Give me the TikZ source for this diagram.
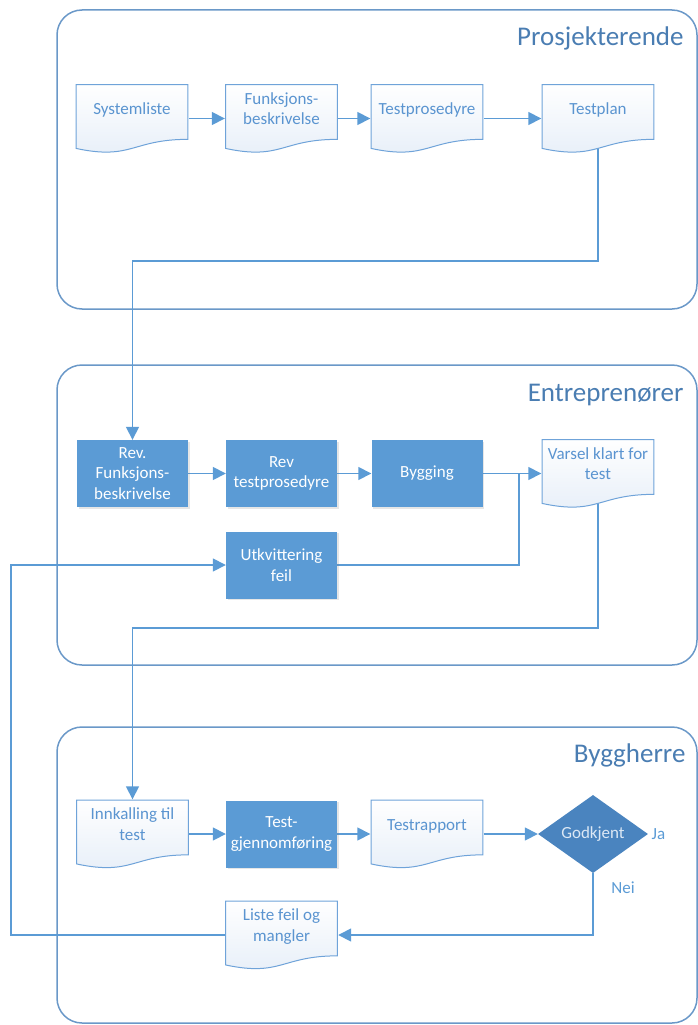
\documentclass[tikz,border=0pt]{standalone}
\usepackage{fontspec}
\setmainfont{Carlito}
\usetikzlibrary{arrows.meta, calc, shapes.geometric, shadows}
\definecolor{flowblue}{HTML}{5B9BD5}
\definecolor{deepblue}{HTML}{4A84BF}
\definecolor{lanerim}{HTML}{6A98C8}
\definecolor{lanetext}{HTML}{4A7DB2}
\definecolor{docrim}{HTML}{6FA3D9}
\definecolor{doctxt}{HTML}{5A94D0}
\definecolor{docshade}{HTML}{E6EEF8}
\definecolor{pale}{HTML}{DCE8F5}

\pgfdeclarelayer{lanes}
\pgfdeclarelayer{wires}
\pgfsetlayers{lanes,wires,main}

% text of a document shape sits above the wave
\newcommand{\doctext}[1]{\raisebox{8pt}[\height][\depth]{\begin{tabular}{@{}c@{}}#1\end{tabular}}}

\tikzset{
  lane/.style={draw=lanerim, line width=1.5pt, rounded corners=25pt},
  lanetitle/.style={text=lanetext, font=\fontsize{27}{30}\selectfont, anchor=base east},
  procbox/.style={rectangle, fill=flowblue, text=white, minimum width=111pt, minimum height=67pt,
    inner sep=0pt, align=center, font=\fontsize{17}{20.5}\selectfont,
    drop shadow={opacity=0.2, shadow xshift=1.5pt, shadow yshift=-1.5pt}},
  docbox/.style={rectangle, minimum width=113pt, minimum height=69pt, inner sep=0pt,
    text=doctxt, font=\fontsize{17}{20.5}\selectfont,
    path picture={
      \draw[docrim, line width=1pt, top color=white, bottom color=docshade]
        let \p1=(path picture bounding box.north west), \p2=(path picture bounding box.south east)
        in (\x1+0.6pt,\y1-0.6pt) -- (\x2-0.6pt,\y1-0.6pt) -- (\x2-0.6pt,{\y1-0.802*(\y1-\y2)})
        .. controls ({0.5*(\x1+\x2)},{\y1-0.802*(\y1-\y2)}) and ({0.5*(\x1+\x2)},{\y1-1.107*(\y1-\y2)})
        .. (\x1+0.6pt,{\y1-0.934*(\y1-\y2)}) -- cycle;
    }},
  decision/.style={diamond, fill=deepblue, text=pale, minimum width=110pt, minimum height=67pt,
    inner sep=0pt, font=\fontsize{17}{20.5}\selectfont},
  flow/.style={draw=flowblue, line width=1.6pt},
  answer/.style={text=flowblue, font=\fontsize{17}{20.5}\selectfont},
}

\begin{document}
\begin{tikzpicture}[x=1pt, y=-1pt, >={Triangle[length=13pt, width=13pt]}]
\useasboundingbox (0,0) rectangle (698,1025);

% Swimlanes
\begin{pgfonlayer}{lanes}
\draw[lane] (57,10) rectangle (697,309);
\draw[lane] (57,365) rectangle (697,665);
\draw[lane] (57,727) rectangle (697,1023);
\end{pgfonlayer}
\node[lanetitle] (tprosj) at (687,46) {Prosjekterende};
\node[lanetitle] (tentr) at (687,401) {Entreprenører};
\node[lanetitle] (tbygg) at (689,762) {Byggherre};

% Prosjekterende
\node[docbox] (syst) at (132,118.5) {\doctext{Systemliste}};
\node[docbox] (funk) at (281.5,118.5) {\doctext{Funksjons-\\beskrivelse}};
\node[docbox] (tprs) at (427,118.5) {\doctext{Testprosedyre}};
\node[docbox] (tpln) at (598,118.5) {\doctext{Testplan}};

% Entreprenører
\node[procbox] (rfunk) at (132.5,473.5) {Rev.\\Funksjons-\\beskrivelse};
\node[procbox] (rtest) at (281.5,473.5) {Rev\\testprosedyre};
\node[procbox] (bygg) at (427,473.5) {Bygging};
\node[docbox] (varsel) at (598,473.5) {\doctext{Varsel klart for\\test}};
\node[procbox] (utkv) at (281.5,565) {Utkvittering\\feil};

% Byggherre
\node[docbox] (innk) at (132.5,834) {\doctext{Innkalling til\\test}};
\node[procbox] (tgjen) at (281.5,834) {Test-\\gjennomføring};
\node[docbox] (trap) at (427,834) {\doctext{Testrapport}};
\node[decision] (godk) at (593,834) {Godkjent};
\node[docbox] (liste) at (281.5,935) {\doctext{Liste feil og\\mangler}};
\node[answer, anchor=west] (ja) at (godk.east) {Ja};
\node[answer] (nei) at (623,888) {Nei};

% bends of the connectors
\coordinate (bend1) at (365,261);
\coordinate (bend2) at (365,628);
\coordinate (merge) at (519,473.5);
\coordinate (back) at (11,750);

\begin{pgfonlayer}{wires}
\draw[flow, ->] (syst.east) -- (funk.west);
\draw[flow, ->] (funk.east) -- (tprs.west);
\draw[flow, ->] (tprs.east) -- (tpln.west);
\draw[flow, ->] (tpln.center) |- (bend1) -| (rfunk.north);
\draw[flow, ->] (rfunk.east) -- (rtest.west);
\draw[flow, ->] (rtest.east) -- (bygg.west);
\draw[flow, ->] (bygg.east) -- (varsel.west);
\draw[flow] (utkv.east) -| (merge);
\draw[flow, ->] (varsel.center) |- (bend2) -| (innk.north);
\draw[flow, ->] (innk.east) -- (tgjen.west);
\draw[flow, ->] (tgjen.east) -- (trap.west);
\draw[flow, ->] (trap.east) -- (godk.west);
\draw[flow, ->] (godk.south) |- (liste.east);
\draw[flow, ->] (liste.west) -| (back) |- (utkv.west);
\end{pgfonlayer}

\end{tikzpicture}
\end{document}
